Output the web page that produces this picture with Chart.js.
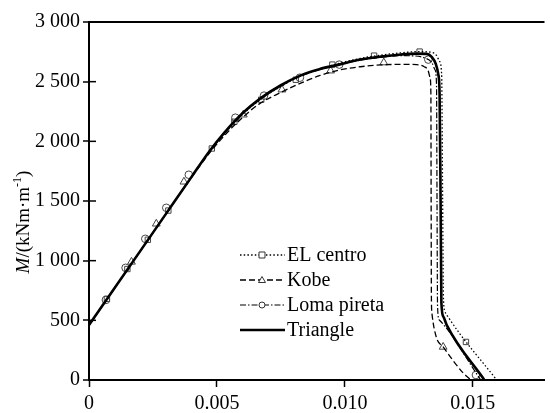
<!DOCTYPE html>
<html>
<head>
<meta charset="utf-8">
<script src="https://cdn.jsdelivr.net/npm/chart.js@4.4.1/dist/chart.umd.min.js"></script>
<style>
  html, body { margin: 0; padding: 0; background: #fff; }
  #wrap { width: 550px; height: 413px; }
</style>
</head>
<body>
<div id="wrap"><canvas id="momentChart" width="550" height="413"></canvas></div>
<script>
// curve values (strain, moment kNm/m)
const triX = [0, 0.001, 0.002, 0.003, 0.004, 0.0047, 0.0053, 0.006, 0.0067, 0.0075, 0.0083, 0.009, 0.0098, 0.0106, 0.0114, 0.0122, 0.0128, 0.0132, 0.0134, 0.01355, 0.01365, 0.0137, 0.01374, 0.01377, 0.01385, 0.01398, 0.01545];
const triM = [460, 770, 1080, 1390, 1700, 1915, 2075, 2235, 2360, 2470, 2555, 2605, 2645, 2685, 2710, 2728, 2735, 2733, 2705, 2650, 2560, 2400, 1500, 650, 530, 460, 0];

const elX = [0, 0.001, 0.002, 0.003, 0.004, 0.0047, 0.0053, 0.006, 0.0067, 0.0075, 0.0083, 0.009, 0.0098, 0.0106, 0.0114, 0.0122, 0.0129, 0.0134, 0.01358, 0.0137, 0.01378, 0.01382, 0.01385, 0.0139, 0.01403, 0.01593];
const elM = [460, 770, 1080, 1390, 1700, 1910, 2065, 2225, 2350, 2460, 2550, 2605, 2655, 2695, 2722, 2742, 2752, 2745, 2720, 2670, 2560, 1500, 700, 580, 530, 0];

const kobeX = [0, 0.001, 0.002, 0.003, 0.004, 0.0047, 0.0053, 0.006, 0.0067, 0.0075, 0.0083, 0.009, 0.0098, 0.0106, 0.0114, 0.0122, 0.0128, 0.0131, 0.01325, 0.01333, 0.01336, 0.01337, 0.01338, 0.0134, 0.01357, 0.01384, 0.01462, 0.01493];
const kobeM = [460, 770, 1080, 1390, 1695, 1900, 2050, 2200, 2320, 2410, 2490, 2550, 2598, 2625, 2640, 2645, 2643, 2625, 2595, 2530, 2400, 1500, 700, 561, 360, 277, 59, 0];

const lomaX = [0, 0.001, 0.002, 0.003, 0.004, 0.0047, 0.0053, 0.006, 0.0067, 0.0075, 0.0083, 0.009, 0.0098, 0.0106, 0.0114, 0.0122, 0.0127, 0.0131, 0.0134, 0.01352, 0.01358, 0.0136, 0.01362, 0.01369, 0.01531];
const lomaM = [460, 770, 1080, 1390, 1700, 1915, 2075, 2235, 2360, 2470, 2550, 2600, 2645, 2680, 2705, 2718, 2716, 2700, 2660, 2600, 2480, 1500, 620, 503, 0];

// marker positions
const elMkX = [0.0007, 0.0015, 0.0023, 0.0031, 0.0048, 0.00568, 0.00673, 0.00808, 0.00951, 0.01114, 0.01292, 0.01473];
const elMkM = [680, 930, 1175, 1420, 1940, 2164, 2349, 2516, 2643, 2718, 2752, 319];
const kobeMkX = [0.00166, 0.00263, 0.00371, 0.00603, 0.00754, 0.00944, 0.01152, 0.01384];
const kobeMkM = [990, 1309, 1661, 2223, 2433, 2592, 2660, 277];
const lomaMkX = [0.00066, 0.00143, 0.0022, 0.00302, 0.0039, 0.00572, 0.00684, 0.00824, 0.00978, 0.01326, 0.01512];
const lomaMkM = [671, 940, 1183, 1443, 1720, 2198, 2383, 2533, 2643, 2685, 42];

const seriesNames = ["EL centro", "Kobe", "Loma pireta", "Triangle"];
const xTicks = [0, 0.005, 0.010, 0.015];
const yTicks = [0, 500, 1000, 1500, 2000, 2500, 3000];

const FONT = "'Liberation Serif', 'Times New Roman', serif";
const pts = (xs, ys) => xs.map((x, i) => ({ x: x, y: ys[i] }));

const lineStyles = [
  { dash: [1.5, 2.2], width: 1.3 },
  { dash: [6, 3], width: 1.3 },
  { dash: [6, 2, 1.5, 2], width: 1.2 },
  { dash: [], width: 2.6 }
];
const markerStyles = ["rect", "triangle", "circle", false];

// legend drawn by hand so the line sample and marker both show
const legendPlugin = {
  id: "handLegend",
  afterDraw(chart) {
    const c = chart.ctx;
    c.save();
    seriesNames.forEach((name, i) => {
      const y = 255 + i * 25;
      const st = lineStyles[i];
      c.strokeStyle = "#000";
      c.lineWidth = st.width;
      c.setLineDash(st.dash);
      c.beginPath();
      c.moveTo(240, y);
      c.lineTo(285, y);
      c.stroke();
      c.setLineDash([]);
      const m = markerStyles[i];
      if (m) {
        c.fillStyle = "#fff";
        c.strokeStyle = "#333";
        c.lineWidth = 1;
        c.beginPath();
        if (m === "rect") c.rect(259, y - 3, 6, 6);
        else if (m === "triangle") { c.moveTo(262, y - 3.5); c.lineTo(265.5, y + 2.5); c.lineTo(258.5, y + 2.5); c.closePath(); }
        else c.arc(262, y, 3, 0, Math.PI * 2);
        c.fill();
        c.stroke();
      }
      c.fillStyle = "#000";
      c.font = "20px " + FONT;
      c.textBaseline = "middle";
      c.textAlign = "left";
      c.fillText(name, 287, y + 1);
    });

    // inner half of the y tick marks
    const ys = chart.scales.y;
    c.strokeStyle = "#000";
    c.lineWidth = 1.5;
    ys.ticks.forEach(t => {
      const py = ys.getPixelForValue(t.value);
      c.beginPath();
      c.moveTo(chart.chartArea.left, py);
      c.lineTo(chart.chartArea.left + 7, py);
      c.stroke();
    });

    // y axis title: M italic, rest upright, -1 raised
    c.translate(29, 222);
    c.rotate(-Math.PI / 2);
    c.textBaseline = "alphabetic";
    c.textAlign = "left";
    const parts = [
      { t: "M", f: "italic 19px " + FONT, dy: 0 },
      { t: "/(kNm·m", f: "19px " + FONT, dy: 0 },
      { t: "-1", f: "12px " + FONT, dy: -8 },
      { t: ")", f: "19px " + FONT, dy: 0 }
    ];
    let total = 0;
    parts.forEach(p => { c.font = p.f; p.w = c.measureText(p.t).width; total += p.w; });
    let u = -total / 2;
    parts.forEach(p => { c.font = p.f; c.fillText(p.t, u, p.dy); u += p.w; });
    c.restore();
  }
};

const ctx = document.getElementById("momentChart").getContext("2d");

const lineSets = [[elX, elM], [kobeX, kobeM], [lomaX, lomaM], [triX, triM]].map((s, i) => ({
  type: "line",
  label: seriesNames[i],
  data: pts(s[0], s[1]),
  borderColor: "#000",
  borderWidth: lineStyles[i].width,
  borderDash: lineStyles[i].dash,
  pointRadius: 0,
  cubicInterpolationMode: "monotone",
  fill: false
}));

const markerSets = [[elMkX, elMkM], [kobeMkX, kobeMkM], [lomaMkX, lomaMkM]].map((s, i) => ({
  type: "scatter",
  label: seriesNames[i] + " markers",
  data: pts(s[0], s[1]),
  showLine: false,
  pointStyle: markerStyles[i],
  pointRadius: i === 1 ? 4.5 : 3.8,
  pointBorderWidth: 1,
  pointBorderColor: "#444",
  pointBackgroundColor: "rgba(255,255,255,0)"
}));

new Chart(ctx, {
  data: { datasets: lineSets.concat(markerSets) },
  options: {
    responsive: false,
    animation: false,
    devicePixelRatio: 1,
    layout: { padding: { top: 22, right: 0, left: 0, bottom: 0 } },
    plugins: { legend: { display: false }, tooltip: { enabled: false } },
    scales: {
      x: {
        type: "linear",
        min: 0,
        max: 0.0178,
        afterBuildTicks: axis => { axis.ticks = xTicks.map(v => ({ value: v })); },
        afterFit: axis => { axis.height = 33; },
        ticks: {
          color: "#000",
          font: { family: FONT, size: 20 },
          padding: 5,
          maxRotation: 0,
          callback: v => (v === 0 ? "0" : Number(v).toFixed(3))
        },
        grid: { drawOnChartArea: false, tickLength: 7, tickColor: "#000", tickWidth: 1.5 },
        border: { color: "#000", width: 2 }
      },
      y: {
        type: "linear",
        min: 0,
        max: 3000,
        afterBuildTicks: axis => { axis.ticks = yTicks.map(v => ({ value: v })); },
        afterFit: axis => { axis.width = 89; },
        ticks: {
          color: "#000",
          font: { family: FONT, size: 20 },
          padding: 3,
          callback: v => String(v).replace(/\B(?=(\d{3})+(?!\d))/g, " ")
        },
        grid: {
          color: c => (c.tick && c.tick.value === 3000 ? "#000" : "rgba(0,0,0,0)"),
          lineWidth: 2,
          tickLength: 6,
          tickColor: "#000",
          tickWidth: 1.5
        },
        border: { color: "#000", width: 2 }
      }
    }
  },
  plugins: [legendPlugin]
});
</script>
</body>
</html>
